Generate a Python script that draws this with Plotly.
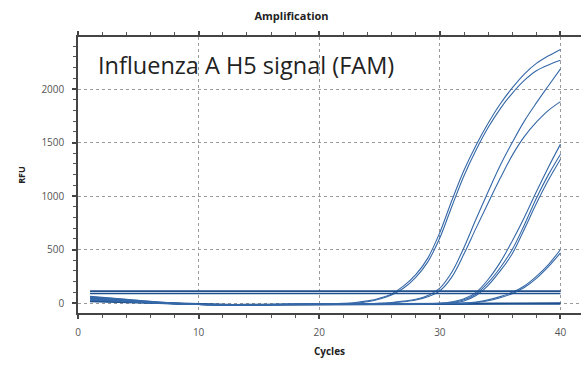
import plotly.graph_objects as go

cycles = list(range(1, 41))

# Growth curves (RFU per cycle 1..40)
a1 = [48, 40, 32, 24, 16, 8, 1, -5, -10, -14, -16, -17, -17, -16, -15, -14, -13, -12, -11, -10,
      -8, -3, 5, 20, 45, 85, 160, 265, 420, 660, 960, 1240, 1475, 1680, 1860, 2010, 2140, 2240, 2310, 2370]
a2 = [40, 34, 27, 20, 13, 6, 0, -6, -10, -13, -15, -16, -16, -15, -14, -13, -12, -11, -10, -9,
      -9, -6, 0, 12, 38, 75, 140, 240, 385, 610, 905, 1190, 1430, 1640, 1815, 1960, 2080, 2170, 2225, 2268]
b1 = [58, 50, 41, 32, 23, 14, 6, -1, -7, -12, -15, -17, -18, -17, -16, -15, -14, -13, -12, -11,
      -10, -10, -9, -7, -3, 5, 18, 35, 70, 140, 290, 520, 785, 1040, 1285, 1500, 1700, 1870, 2030, 2188]
b2 = [30, 26, 21, 15, 9, 4, -1, -6, -10, -13, -15, -16, -16, -15, -14, -13, -12, -11, -10, -10,
      -10, -9, -8, -6, -3, 2, 12, 28, 58, 115, 245, 460, 700, 935, 1165, 1380, 1555, 1690, 1800, 1882]
c1 = [52, 44, 36, 27, 18, 10, 3, -4, -9, -13, -16, -17, -17, -17, -16, -15, -14, -13, -12, -11,
      -11, -10, -10, -9, -9, -8, -7, -6, -4, -2, 12, 40, 100, 220, 380, 580, 800, 1040, 1270, 1485]
c2 = [36, 30, 24, 18, 11, 5, -1, -6, -10, -13, -15, -16, -16, -16, -15, -14, -13, -12, -11, -11,
      -10, -10, -10, -9, -9, -8, -8, -7, -5, -3, 5, 30, 85, 190, 330, 500, 730, 980, 1200, 1391]
c3 = [62, 53, 44, 34, 25, 16, 8, 0, -6, -11, -14, -16, -17, -17, -16, -15, -14, -13, -12, -12,
      -11, -11, -10, -10, -9, -9, -8, -8, -6, -4, 0, 20, 70, 165, 300, 460, 690, 930, 1150, 1344]
d1 = [45, 38, 30, 22, 15, 8, 1, -5, -9, -13, -15, -16, -17, -16, -15, -14, -13, -12, -11, -11,
      -10, -10, -10, -9, -9, -9, -8, -8, -7, -6, -4, 0, 10, 30, 60, 100, 160, 250, 360, 500]
d2 = [25, 21, 17, 12, 7, 2, -3, -7, -11, -14, -16, -17, -17, -16, -15, -14, -13, -12, -12, -11,
      -11, -10, -10, -10, -9, -9, -9, -8, -8, -7, -5, -3, 5, 22, 50, 88, 145, 230, 340, 469]

# Non-amplifying curves
n1 = [20, 17, 13, 9, 5, 1, -3, -7, -10, -13, -15, -16, -16, -15, -14, -13, -12, -11, -10, -10,
      -9, -9, -8, -8, -7, -7, -6, -6, -5, -5, -4, -4, -3, -3, -2, -2, -1, -1, 0, 0]
n2 = [15, 12, 9, 5, 1, -3, -7, -10, -13, -16, -18, -19, -19, -18, -17, -16, -15, -14, -14, -13,
      -13, -12, -12, -12, -11, -11, -11, -10, -10, -10, -10, -9, -9, -9, -9, -9, -8, -8, -8, -8]
flat_hi = [112] * 40
flat_lo = [89] * 40

x_ticks = [0, 10, 20, 30, 40]
y_ticks = [0, 500, 1000, 1500, 2000]

growth = [a1, a2, b1, b2, c1, c2, c3, d1, d2]
others = [n1, n2]

fig = go.Figure()
for s in others:
    fig.add_trace(go.Scatter(x=cycles, y=s, mode="lines",
                             line=dict(color="#1d4f8e", width=1.6), hoverinfo="skip"))
for s in growth:
    fig.add_trace(go.Scatter(x=cycles, y=s, mode="lines",
                             line=dict(color="#3568a8", width=1.1, shape="spline"), hoverinfo="skip"))
for s in [flat_hi, flat_lo]:
    fig.add_trace(go.Scatter(x=cycles, y=s, mode="lines",
                             line=dict(color="#1f4f8c", width=1.7), hoverinfo="skip"))

axis_font = dict(family="Open Sans, Arial, sans-serif", size=10, color="#555")

fig.update_layout(
    width=583, height=365,
    margin=dict(l=78, r=2, t=37, b=52),
    paper_bgcolor="white", plot_bgcolor="white",
    showlegend=False,
    title=dict(text="<b>Amplification</b>", x=0.5, xref="container", xanchor="center",
               y=1 - 16 / 365, yref="container", yanchor="middle",
               font=dict(family="Open Sans, Arial, sans-serif", size=11, color="#222")),
    font=axis_font,
)

fig.update_xaxes(
    range=[0, 41.7], tickvals=x_ticks, ticktext=[str(v) for v in x_ticks],
    showline=True, linecolor="#444", linewidth=1.5, mirror="allticks",
    ticks="outside", ticklen=4, tickcolor="#444", tickwidth=1.5,
    minor=dict(dtick=2, tick0=0, ticks="outside", ticklen=3, tickcolor="#555", tickwidth=1, showgrid=False),
    showgrid=True, gridcolor="#9a9a9a", griddash="dot", gridwidth=1,
    zeroline=False, tickfont=axis_font, ticklabelstandoff=5,
    title=dict(text="<b>Cycles</b>", font=dict(family="Open Sans, Arial, sans-serif", size=10, color="#222"),
               standoff=10),
)
fig.update_yaxes(
    range=[-93, 2486], tickvals=y_ticks, ticktext=[str(v) for v in y_ticks],
    showline=True, linecolor="#444", linewidth=1.5, mirror=False,
    ticks="outside", ticklen=4, tickcolor="#444", tickwidth=1.5,
    minor=dict(dtick=100, tick0=0, ticks="outside", ticklen=3, tickcolor="#555", tickwidth=1, showgrid=False),
    showgrid=True, gridcolor="#9a9a9a", griddash="dot", gridwidth=1,
    zeroline=False, tickfont=axis_font, ticklabelstandoff=6,
    title=dict(text="<b>RFU</b>", font=dict(family="Open Sans, Arial, sans-serif", size=9, color="#222"),
               standoff=14),
)

fig.add_annotation(
    text="Influenza A H5 signal (FAM)", xref="paper", yref="paper",
    x=(96 - 78) / 503, y=1 - (65 - 37) / 276, xanchor="left", yanchor="middle",
    showarrow=False, font=dict(family="Open Sans, sans-serif", size=23.5, color="#222"),
)

fig.write_html("out.html")
